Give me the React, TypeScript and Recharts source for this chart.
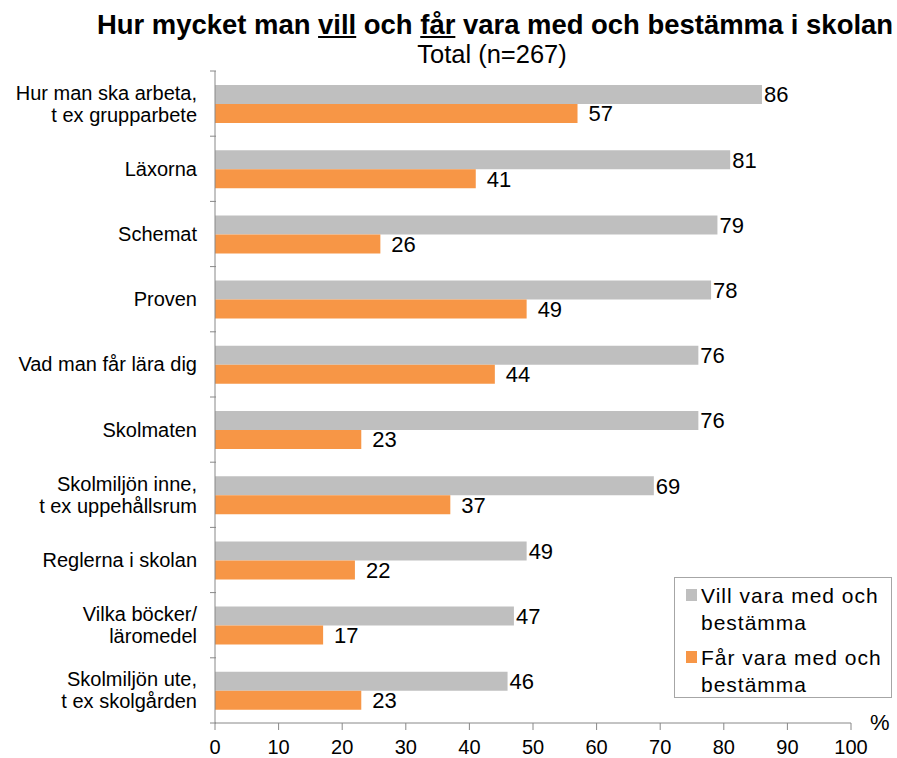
import React from 'react'
import { BarChart, Bar, XAxis, YAxis, LabelList } from 'recharts'

const categories = [
  'Hur man ska arbeta,\nt ex grupparbete',
  'Läxorna',
  'Schemat',
  'Proven',
  'Vad man får lära dig',
  'Skolmaten',
  'Skolmiljön inne,\nt ex uppehållsrum',
  'Reglerna i skolan',
  'Vilka böcker/\nläromedel',
  'Skolmiljön ute,\nt ex skolgården',
]
const vill = [86, 81, 79, 78, 76, 76, 69, 49, 47, 46]
const far = [57, 41, 26, 49, 44, 23, 37, 22, 17, 23]
const xTicks = [0, 10, 20, 30, 40, 50, 60, 70, 80, 90, 100]

const seriesNames = ['Vill vara med och\nbestämma', 'Får vara med och\nbestämma']
const colors = ['#BFBFBF', '#F79646']

const data = categories.map((name, i) => ({ name, vill: vill[i], far: far[i] }))

const FONT = "'Liberation Sans', Arial, sans-serif"
const BAND = 65.2

function CategoryTick(props: any) {
  const { x, y, payload, index } = props
  const lines = String(payload.value).split('\n')
  const lh = 22
  const y0 = y - ((lines.length - 1) * lh) / 2
  return (
    <g>
      <line x1={x + 3} x2={x + 9} y1={y - BAND / 2} y2={y - BAND / 2} stroke="#888" />
      {index === categories.length - 1 && (
        <line x1={x + 3} x2={x + 9} y1={y + BAND / 2} y2={y + BAND / 2} stroke="#888" />
      )}
      <text x={x - 10} y={y0} textAnchor="end" fontSize={20} fill="#000" fontFamily={FONT} dominantBaseline="central">
        {lines.map((l, i) => (
          <tspan key={i} x={x - 10} dy={i === 0 ? 0 : lh}>{l}</tspan>
        ))}
      </text>
    </g>
  )
}

function ValueTick(props: any) {
  const { x, y, payload } = props
  // y here is just below the tick line
  return (
    <text x={x} y={y + 24} textAnchor="middle" fontSize={20} fill="#000" fontFamily={FONT}>
      {payload.value}
    </text>
  )
}

function LegendBox() {
  return (
    <div style={{
      position: 'absolute', left: 674, top: 577, width: 218, height: 121,
      border: '1px solid #A6A6A6', background: '#fff', padding: '4px 0 0 0',
      fontFamily: FONT, fontSize: 21, lineHeight: '27px', color: '#000', boxSizing: 'border-box',
    }}>
      {seriesNames.map((s, i) => (
        <div key={i} style={{ display: 'flex', alignItems: 'flex-start', marginBottom: i === 0 ? 8 : 0 }}>
          <div style={{ width: 11, height: 12, background: colors[i], margin: '7px 4px 0 11px', flex: 'none' }} />
          <div style={{ whiteSpace: 'pre', letterSpacing: 1 }}>{s}</div>
        </div>
      ))}
    </div>
  )
}

export default function App() {
  return (
    <div style={{ position: 'absolute', left: 0, top: 0, width: 897, height: 758, background: '#fff' }}>
      <div style={{
        position: 'absolute', left: 0, width: 990, top: 9, textAlign: 'center',
        fontFamily: FONT, fontWeight: 'bold', fontSize: 28, color: '#000', whiteSpace: 'nowrap',
        transform: 'scaleX(0.98)', transformOrigin: '495px 0',
      }}>
        Hur mycket man <u>vill</u> och <u>får</u> vara med och bestämma i skolan
      </div>
      <div style={{
        position: 'absolute', left: 0, width: 984, top: 39, textAlign: 'center',
        fontFamily: FONT, fontSize: 26, color: '#000',
        transform: 'scaleX(0.98)', transformOrigin: '492px 0',
      }}>
        Total (n=267)
      </div>
      <div style={{ position: 'absolute', left: 870, top: 710, fontFamily: FONT, fontSize: 22 }}>%</div>
      <BarChart
        layout="vertical"
        width={897}
        height={758}
        data={data}
        margin={{ top: 71, right: 46, bottom: 5, left: 0 }}
        barCategoryGap={14}
        barGap={0}
      >
        <XAxis
          type="number"
          domain={[0, 100]}
          ticks={xTicks}
          interval={0}
          height={30}
          axisLine={{ stroke: '#888' }}
          tickLine={{ stroke: '#888' }}
          tickSize={7}
          tickMargin={0}
          tick={<ValueTick />}
        />
        <YAxis
          type="category"
          dataKey="name"
          width={215}
          interval={0}
          axisLine={{ stroke: '#888' }}
          tickLine={false}
          tick={<CategoryTick />}
        />
        <Bar dataKey="vill" name={seriesNames[0]} fill={colors[0]} isAnimationActive={false}>
          <LabelList dataKey="vill" position="right" offset={2} fontSize={22} fill="#000" fontFamily={FONT} />
        </Bar>
        <Bar dataKey="far" name={seriesNames[1]} fill={colors[1]} isAnimationActive={false}>
          <LabelList dataKey="far" position="right" offset={11} fontSize={22} fill="#000" fontFamily={FONT} />
        </Bar>
      </BarChart>
      <LegendBox />
    </div>
  )
}
